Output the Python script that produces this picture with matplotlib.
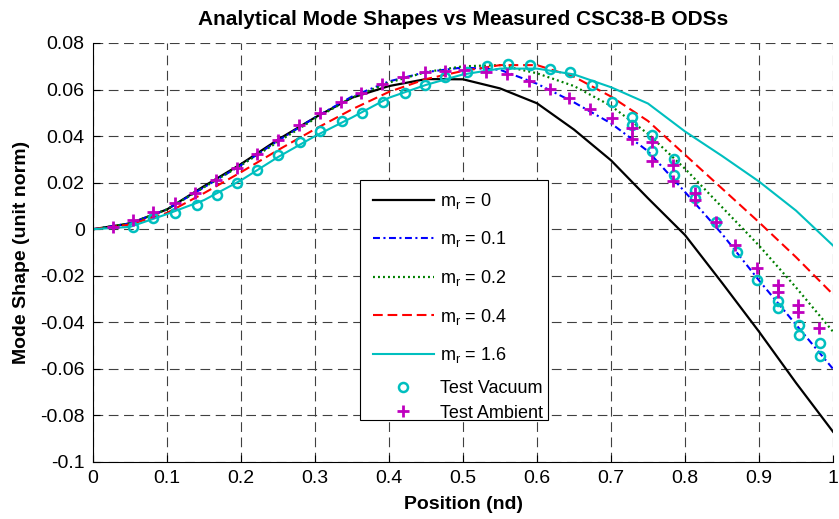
import numpy as np
import matplotlib
matplotlib.use('Agg')
import matplotlib.pyplot as plt
from matplotlib.patches import Rectangle

plt.rcParams['font.family'] = ['Liberation Sans', 'DejaVu Sans']
plt.rcParams['axes.unicode_minus'] = False
plt.rcParams['lines.scale_dashes'] = False
plt.rcParams['mathtext.fontset'] = 'custom'
plt.rcParams['mathtext.rm'] = 'Liberation Sans'

# analytical mode shapes, every 0.05
pos = [0, 0.05, 0.1, 0.15, 0.2, 0.25, 0.3, 0.35, 0.4, 0.45, 0.5,
       0.55, 0.6, 0.65, 0.7, 0.75, 0.8, 0.85, 0.9, 0.95, 1.0]
mr_0 = [0, 0.0025, 0.0085, 0.0185, 0.028, 0.0385, 0.048, 0.0565, 0.0615, 0.0645, 0.0644,
        0.0605, 0.0541, 0.0428, 0.0296, 0.0133, -0.0025, -0.023, -0.044, -0.066, -0.087]
mr_01 = [0, 0.0025, 0.0085, 0.018, 0.0275, 0.038, 0.048, 0.057, 0.0635, 0.0675, 0.0695,
         0.0685, 0.0625, 0.0545, 0.0455, 0.0335, 0.016, -0.002, -0.022, -0.041, -0.060]
mr_02 = [0, 0.0025, 0.0085, 0.018, 0.0275, 0.0375, 0.0475, 0.0565, 0.063, 0.0675, 0.0700,
         0.0705, 0.067, 0.0615, 0.053, 0.041, 0.026, 0.0095, -0.007, -0.025, -0.044]
mr_04 = [0, 0.002, 0.007, 0.0155, 0.0245, 0.034, 0.043, 0.0515, 0.059, 0.0645, 0.068,
         0.0705, 0.0705, 0.0655, 0.057, 0.0465, 0.032, 0.0175, 0.003, -0.012, -0.028]
mr_16 = [0, 0.001, 0.0065, 0.0125, 0.021, 0.031, 0.040, 0.048, 0.0565, 0.062, 0.0665,
         0.069, 0.069, 0.0665, 0.061, 0.054, 0.042, 0.0315, 0.0205, 0.008, -0.007]

# measured ODS points
vac_x = [0.054, 0.0815, 0.111, 0.140, 0.167, 0.194, 0.221, 0.250, 0.280, 0.307, 0.336,
         0.363, 0.392, 0.422, 0.449, 0.476, 0.505, 0.532, 0.561, 0.590, 0.617, 0.645,
         0.674, 0.701, 0.729, 0.729, 0.756, 0.756, 0.785, 0.785, 0.814, 0.814, 0.842,
         0.870, 0.897, 0.926, 0.926, 0.954, 0.954, 0.983, 0.983]
vac_y = [0.001, 0.0047, 0.007, 0.0105, 0.0148, 0.0198, 0.0255, 0.032, 0.0376, 0.042, 0.0466,
         0.050, 0.0548, 0.0587, 0.062, 0.0656, 0.0677, 0.070, 0.071, 0.0705, 0.069, 0.0677,
         0.062, 0.0548, 0.0481, 0.0448, 0.0405, 0.0335, 0.030, 0.0233, 0.0169, 0.0133, 0.0033,
         -0.0096, -0.0218, -0.031, -0.034, -0.041, -0.0453, -0.0487, -0.0544]
amb_x = [0.027, 0.054, 0.0815, 0.111, 0.138, 0.166, 0.194, 0.221, 0.250, 0.279, 0.307,
         0.335, 0.362, 0.390, 0.419, 0.448, 0.475, 0.502, 0.531, 0.560, 0.589, 0.617,
         0.643, 0.672, 0.701, 0.728, 0.728, 0.756, 0.756, 0.784, 0.784, 0.813, 0.813,
         0.842, 0.868, 0.897, 0.925, 0.925, 0.953, 0.953, 0.981]
amb_y = [0.0008, 0.004, 0.0075, 0.0111, 0.0157, 0.0212, 0.0262, 0.0322, 0.0384, 0.0448, 0.0498,
         0.0548, 0.0587, 0.0623, 0.0656, 0.0677, 0.0681, 0.0684, 0.0677, 0.0667, 0.0638, 0.0601,
         0.0565, 0.0515, 0.0477, 0.0434, 0.0387, 0.0376, 0.0295, 0.0276, 0.0209, 0.0155, 0.0126,
         0.0033, -0.0067, -0.0167, -0.0239, -0.0268, -0.0325, -0.0354, -0.0425]

xticks = [0, 0.1, 0.2, 0.3, 0.4, 0.5, 0.6, 0.7, 0.8, 0.9, 1]
yticks = [-0.1, -0.08, -0.06, -0.04, -0.02, 0, 0.02, 0.04, 0.06, 0.08]

fig = plt.figure(figsize=(8.39, 5.19), dpi=100)
ax = fig.add_axes([93/839, 57/519, 740/839, 419/519])

ax.plot(pos, mr_0, color='k', lw=1.6, label=r'm$_\mathregular{r}$ = 0')
ax.plot(pos, mr_01, color='#0000ff', lw=1.5, ls=(0, (5, 2.5, 1.5, 2.5)), label=r'm$_\mathregular{r}$ = 0.1')
ax.plot(pos, mr_02, color='#008000', lw=1.6, ls=(0, (1.4, 2.2)), label=r'm$_\mathregular{r}$ = 0.2')
ax.plot(pos, mr_04, color='#ff0000', lw=1.5, ls=(0, (7, 3.5)), label=r'm$_\mathregular{r}$ = 0.4')
ax.plot(pos, mr_16, color='#00bfbf', lw=1.5, label=r'm$_\mathregular{r}$ = 1.6')
ax.plot(vac_x, vac_y, ls='none', marker='o', ms=6.5, mfc='none', mec='#00bfbf', mew=1.8,
        label='Test Vacuum')
ax.plot(amb_x, amb_y, ls='none', marker='+', ms=9, mec='#bf00bf', mew=2, label='Test Ambient')

ax.set_xlim(0, 1)
ax.set_ylim(-0.1, 0.08)
ax.set_xticks(xticks)
ax.set_yticks(yticks)
ax.set_xticklabels(['%g' % t for t in xticks])
ax.set_yticklabels(['%g' % t for t in yticks])
ax.tick_params(direction='in', length=5, labelsize=14, pad=6, top=False, right=False)
ax.spines['top'].set_visible(False)
ax.spines['right'].set_visible(False)
ax.grid(True, color='0.25', lw=0.8, ls=(0, (7, 4)))

ax.set_title('Analytical Mode Shapes vs Measured CSC38-B ODSs', fontsize=15, fontweight='bold', pad=13)
ax.set_xlabel('Position (nd)', fontsize=14, fontweight='bold', labelpad=6)
ax.set_ylabel('Mode Shape (unit norm)', fontsize=14, fontweight='bold', labelpad=7)

# legend: MATLAB-like box, taller rows for the subscripted labels
handles, labels = ax.get_legend_handles_labels()
box = Rectangle((0.361, 0.100), 0.254, 0.573, transform=ax.transAxes, facecolor='white',
                edgecolor='k', lw=0.8, zorder=4.5)
ax.add_patch(box)
kw = dict(loc='center left', borderaxespad=0, borderpad=0, fontsize=13, handlelength=3.4,
          handletextpad=0.35, frameon=False)
leg1 = ax.legend(handles[:5], labels[:5], bbox_to_anchor=(0.378, 0.439), labelspacing=1.03, **kw)
ax.add_artist(leg1)
leg2 = ax.legend(handles[5:], labels[5:], bbox_to_anchor=(0.378, 0.1456), labelspacing=0.42, **kw)

fig.savefig('out.png', dpi=100)
